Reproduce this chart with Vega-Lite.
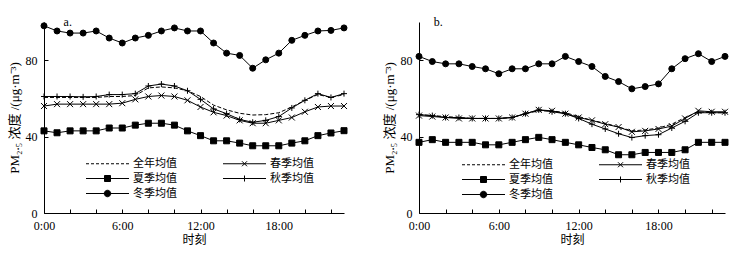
{
  "$schema": "https://vega.github.io/schema/vega-lite/v6.json",
  "padding": {"left": 8, "top": 16, "right": 5, "bottom": 5},
  "datasets": {
    "a": [
      {"h": 0, "全年均值": 60.5, "春季均值": 56, "夏季均值": 43, "秋季均值": 61, "冬季均值": 98},
      {"h": 1, "全年均值": 60.5, "春季均值": 57, "夏季均值": 42, "秋季均值": 61, "冬季均值": 95.3},
      {"h": 2, "全年均值": 60.5, "春季均值": 57, "夏季均值": 43, "秋季均值": 61, "冬季均值": 94.2},
      {"h": 3, "全年均值": 60.5, "春季均值": 57, "夏季均值": 43, "秋季均值": 60.8, "冬季均值": 94.2},
      {"h": 4, "全年均值": 60.5, "春季均值": 57, "夏季均值": 43, "秋季均值": 61, "冬季均值": 95.3},
      {"h": 5, "全年均值": 61, "春季均值": 57, "夏季均值": 44.5, "秋季均值": 62, "冬季均值": 91.6},
      {"h": 6, "全年均值": 61, "春季均值": 57.5, "夏季均值": 44.5, "秋季均值": 62, "冬季均值": 89},
      {"h": 7, "全年均值": 61.5, "春季均值": 59.5, "夏季均值": 46, "秋季均值": 62.5, "冬季均值": 91.6},
      {"h": 8, "全年均值": 65.5, "春季均值": 61, "夏季均值": 47, "秋季均值": 66.5, "冬季均值": 93},
      {"h": 9, "全年均值": 66, "春季均值": 61.5, "夏季均值": 47, "秋季均值": 67.5, "冬季均值": 95.3},
      {"h": 10, "全年均值": 65.5, "春季均值": 61, "夏季均值": 46, "秋季均值": 66.5, "冬季均值": 96.9},
      {"h": 11, "全年均值": 64, "春季均值": 59, "夏季均值": 43, "秋季均值": 64, "冬季均值": 95.3},
      {"h": 12, "全年均值": 61, "春季均值": 55.5, "夏季均值": 40.5, "秋季均值": 59.5, "冬季均值": 95.3},
      {"h": 13, "全年均值": 56.5, "春季均值": 52.7, "夏季均值": 37.8, "秋季均值": 54.5, "冬季均值": 89},
      {"h": 14, "全年均值": 54, "春季均值": 51, "夏季均值": 37.8, "秋季均值": 52, "冬季均值": 83.7},
      {"h": 15, "全年均值": 52.2, "春季均值": 48.5, "夏季均值": 36.6, "秋季均值": 49, "冬季均值": 82.5},
      {"h": 16, "全年均值": 51.3, "春季均值": 47, "夏季均值": 35.2, "秋季均值": 47.5, "冬季均值": 75.8},
      {"h": 17, "全年均值": 51.5, "春季均值": 47, "夏季均值": 35.2, "秋季均值": 48.5, "冬季均值": 80.2},
      {"h": 18, "全年均值": 52.5, "春季均值": 48.5, "夏季均值": 35.2, "秋季均值": 50.5, "冬季均值": 83.7},
      {"h": 19, "全年均值": 55.5, "春季均值": 50, "夏季均值": 36.6, "秋季均值": 55, "冬季均值": 90.4},
      {"h": 20, "全年均值": 59, "春季均值": 53, "夏季均值": 37.8, "秋季均值": 59, "冬季均值": 93},
      {"h": 21, "全年均值": 62, "春季均值": 55.5, "夏季均值": 40.5, "秋季均值": 62.5, "冬季均值": 95.3},
      {"h": 22, "全年均值": 60.5, "春季均值": 56, "夏季均值": 41.9, "秋季均值": 60.5, "冬季均值": 95.6},
      {"h": 23, "全年均值": 62, "春季均值": 56, "夏季均值": 43.1, "秋季均值": 62.5, "冬季均值": 96.9}
    ],
    "b": [
      {"h": 0, "全年均值": 51.5, "春季均值": 51, "夏季均值": 37, "秋季均值": 51.5, "冬季均值": 82},
      {"h": 1, "全年均值": 51, "春季均值": 50.5, "夏季均值": 38.4, "秋季均值": 51, "冬季均值": 79.3},
      {"h": 2, "全年均值": 50.5, "春季均值": 50, "夏季均值": 37, "秋季均值": 50, "冬季均值": 78.1},
      {"h": 3, "全年均值": 50, "春季均值": 49.5, "夏季均值": 37, "秋季均值": 50, "冬季均值": 78.1},
      {"h": 4, "全年均值": 49.5, "春季均值": 49.5, "夏季均值": 37, "秋季均值": 49.5, "冬季均值": 76.7},
      {"h": 5, "全年均值": 49.5, "春季均值": 49.5, "夏季均值": 35.7, "秋季均值": 49.5, "冬季均值": 75.5},
      {"h": 6, "全年均值": 49.5, "春季均值": 49.5, "夏季均值": 35.7, "秋季均值": 49.5, "冬季均值": 72.9},
      {"h": 7, "全年均值": 50, "春季均值": 50, "夏季均值": 37, "秋季均值": 50, "冬季均值": 75.5},
      {"h": 8, "全年均值": 52, "春季均值": 52, "夏季均值": 38.4, "秋季均值": 52, "冬季均值": 75.5},
      {"h": 9, "全年均值": 53.5, "春季均值": 54, "夏季均值": 39.6, "秋季均值": 54, "冬季均值": 78.1},
      {"h": 10, "全年均值": 53.5, "春季均值": 53.5, "夏季均值": 38.4, "秋季均值": 53, "冬季均值": 78.1},
      {"h": 11, "全年均值": 52.5, "春季均值": 52, "夏季均值": 37, "秋季均值": 52, "冬季均值": 82},
      {"h": 12, "全年均值": 50.5, "春季均值": 50, "夏季均值": 35.7, "秋季均值": 49.5, "冬季均值": 79.3},
      {"h": 13, "全年均值": 48.5, "春季均值": 48.5, "夏季均值": 34.3, "秋季均值": 46.5, "冬季均值": 76.7},
      {"h": 14, "全年均值": 47, "春季均值": 46.5, "夏季均值": 33.1, "秋季均值": 44, "冬季均值": 71.5},
      {"h": 15, "全年均值": 45, "春季均值": 45, "夏季均值": 30.5, "秋季均值": 41.5, "冬季均值": 68.8},
      {"h": 16, "全年均值": 43, "春季均值": 42.5, "夏季均值": 30.5, "秋季均值": 39.5, "冬季均值": 65},
      {"h": 17, "全年均值": 43.5, "春季均值": 43, "夏季均值": 31.7, "秋季均值": 40.5, "冬季均值": 66.2},
      {"h": 18, "全年均值": 44.5, "春季均值": 44, "夏季均值": 31.7, "秋季均值": 41, "冬季均值": 67.6},
      {"h": 19, "全年均值": 46.5, "春季均值": 45.5, "夏季均值": 31.7, "秋季均值": 44.5, "冬季均值": 75.5},
      {"h": 20, "全年均值": 50, "春季均值": 49.5, "夏季均值": 33.1, "秋季均值": 48, "冬季均值": 80.8},
      {"h": 21, "全年均值": 53, "春季均值": 53.5, "夏季均值": 37, "秋季均值": 52.5, "冬季均值": 83.4},
      {"h": 22, "全年均值": 52.5, "春季均值": 53, "夏季均值": 37, "秋季均值": 52.5, "冬季均值": 79.3},
      {"h": 23, "全年均值": 52.5, "春季均值": 53, "夏季均值": 37, "秋季均值": 52.5, "冬季均值": 82}
    ],
    "names": [{"s": "全年均值"}, {"s": "春季均值"}, {"s": "夏季均值"}, {"s": "秋季均值"}, {"s": "冬季均值"}]
  },
  "config": {
    "font": "Liberation Serif, Noto Sans CJK SC",
    "view": {"stroke": null},
    "axis": {
      "domainColor": "black", "tickColor": "black", "labelColor": "black", "titleColor": "black",
      "labelFontSize": 12, "titleFontSize": 12, "titleFontWeight": "normal", "grid": false,
      "domainWidth": 1, "tickWidth": 1
    },
    "axisX": {
      "tickCount": 23,
      "labelExpr": "datum.value % 3 === 0 ? datum.value + ':00' : ''",
      "tickSize": -4, "labelPadding": 11, "labelFlush": false, "labelOverlap": false, "titlePadding": 3
    },
    "axisY": {
      "tickCount": 5, "tickSize": -4, "labelPadding": 11, "titlePadding": 4, "titleFontSize": 13
    },
    "legend": {
      "orient": "none", "columns": 2, "direction": "horizontal", "columnPadding": 44, "rowPadding": 3,
      "symbolSize": 100, "symbolOffset": 16, "labelOffset": 20, "labelFontSize": 11,
      "labelColor": "black", "padding": 0, "symbolStrokeWidth": 1
    }
  },
  "spacing": 34,
  "resolve": {
    "scale": {"shape": "independent"},
    "legend": {"shape": "independent"}
  },
  "hconcat": [
    {
      "width": 300, "height": 191,
      "resolve": {"scale": {"shape": "independent"}, "legend": {"shape": "independent"}},
      "layer": [
        {
          "data": {"name": "a"},
          "transform": [{"fold": ["春季均值", "夏季均值", "秋季均值", "冬季均值"], "as": ["series", "value"]}],
          "mark": {"type": "line", "color": "black", "strokeWidth": 1},
          "encoding": {
            "x": {"field": "h", "type": "quantitative", "title": "时刻", "scale": {"domain": [0, 23], "nice": false, "zero": false}, "axis": {"values": [0,1,2,3,4,5,6,7,8,9,10,11,12,13,14,15,16,17,18,19,20,21,22,23]}},
            "y": {"field": "value", "type": "quantitative", "title": "PM₂.₅ 浓度 /(μg·m⁻³)", "scale": {"domain": [0, 100], "nice": false, "zero": false}, "axis": {"values": [0, 20, 40, 60, 80, 100]}},
            "detail": {"field": "series", "type": "nominal"}
          }
        },
        {
          "data": {"name": "a"},
          "transform": [{"fold": ["全年均值"], "as": ["series", "value"]}],
          "mark": {"type": "line", "color": "black", "strokeWidth": 1, "strokeDash": [4, 2]},
          "encoding": {
            "x": {"field": "h", "type": "quantitative", "title": "时刻", "scale": {"domain": [0, 23], "nice": false, "zero": false}, "axis": {"values": [0,1,2,3,4,5,6,7,8,9,10,11,12,13,14,15,16,17,18,19,20,21,22,23]}},
            "y": {"field": "value", "type": "quantitative", "title": "PM₂.₅ 浓度 /(μg·m⁻³)", "scale": {"domain": [0, 100], "nice": false, "zero": false}, "axis": {"values": [0, 20, 40, 60, 80, 100]}}
          }
        },
        {
          "data": {"name": "a"},
          "transform": [{"fold": ["春季均值", "夏季均值", "秋季均值", "冬季均值"], "as": ["series", "value"]}],
          "mark": {"type": "point", "filled": true, "color": "black", "stroke": "black", "strokeWidth": 1, "size": 36, "opacity": 1},
          "encoding": {
            "x": {"field": "h", "type": "quantitative", "title": "时刻", "scale": {"domain": [0, 23], "nice": false, "zero": false}, "axis": {"values": [0,1,2,3,4,5,6,7,8,9,10,11,12,13,14,15,16,17,18,19,20,21,22,23]}},
            "y": {"field": "value", "type": "quantitative", "title": "PM₂.₅ 浓度 /(μg·m⁻³)", "scale": {"domain": [0, 100], "nice": false, "zero": false}, "axis": {"values": [0, 20, 40, 60, 80, 100]}},
            "shape": {"field": "series", "type": "nominal",
              "scale": {"domain": ["春季均值", "夏季均值", "秋季均值", "冬季均值"],
                "range": ["M-1,-1L1,1M-1,1L1,-1", "square", "M-1,0L1,0M0,-1L0,1", "circle"]},
              "legend": null}
          }
        },
        {
          "data": {"name": "names"},
          "mark": {"type": "point", "filled": true, "color": "black", "stroke": "black", "strokeWidth": 1, "opacity": 0},
          "encoding": {
            "x": {"datum": 0, "type": "quantitative", "title": "时刻", "scale": {"domain": [0, 23], "nice": false, "zero": false}, "axis": {"values": [0,1,2,3,4,5,6,7,8,9,10,11,12,13,14,15,16,17,18,19,20,21,22,23]}},
            "y": {"datum": 0, "type": "quantitative", "title": "PM₂.₅ 浓度 /(μg·m⁻³)", "scale": {"domain": [0, 100], "nice": false, "zero": false}, "axis": {"values": [0, 20, 40, 60, 80, 100]}},
            "shape": {"field": "s", "type": "nominal",
              "scale": {"domain": ["全年均值", "春季均值", "夏季均值", "秋季均值", "冬季均值"],
                "range": [
                  "M-4.3,0H-3.7M-3.3,0H-2.7M-2.3,0H-1.7M-1.3,0H-0.7M-0.3,0H0.3M0.7,0H1.3M1.7,0H2.3M2.7,0H3.3M3.7,0H4.3",
                  "M-4.3,0H4.3M-0.5,-0.5L0.5,0.5M-0.5,0.5L0.5,-0.5",
                  "M-4.3,0H4.3M-0.6,-0.6H0.6V0.6H-0.6Z",
                  "M-4.3,0H4.3M0,-0.6V0.6",
                  "M-4.3,0H4.3M0.65,0A0.65,0.65,0,1,1,-0.65,0A0.65,0.65,0,1,1,0.65,0Z"]},
              "legend": {"title": null, "legendX": 42, "legendY": 136}}
          }
        },
        {
          "data": {"values": [{"label": "a."}]},
          "mark": {"type": "text", "align": "left", "baseline": "middle", "fontSize": 12, "color": "black"},
          "encoding": {
            "x": {"datum": 1.5, "type": "quantitative", "title": "时刻", "scale": {"domain": [0, 23], "nice": false, "zero": false}, "axis": {"values": [0,1,2,3,4,5,6,7,8,9,10,11,12,13,14,15,16,17,18,19,20,21,22,23]}},
            "y": {"datum": 100, "type": "quantitative", "title": "PM₂.₅ 浓度 /(μg·m⁻³)", "scale": {"domain": [0, 100], "nice": false, "zero": false}, "axis": {"values": [0, 20, 40, 60, 80, 100]}},
            "text": {"field": "label", "type": "nominal"}}
        }
      ]
    },
    {
      "width": 306, "height": 191,
      "resolve": {"scale": {"shape": "independent"}, "legend": {"shape": "independent"}},
      "layer": [
        {
          "data": {"name": "b"},
          "transform": [{"fold": ["春季均值", "夏季均值", "秋季均值", "冬季均值"], "as": ["series", "value"]}],
          "mark": {"type": "line", "color": "black", "strokeWidth": 1},
          "encoding": {
            "x": {"field": "h", "type": "quantitative", "title": "时刻", "scale": {"domain": [0, 23], "nice": false, "zero": false}, "axis": {"values": [0,1,2,3,4,5,6,7,8,9,10,11,12,13,14,15,16,17,18,19,20,21,22,23]}},
            "y": {"field": "value", "type": "quantitative", "title": "PM₂.₅ 浓度 /(μg·m⁻³)", "scale": {"domain": [0, 100], "nice": false, "zero": false}, "axis": {"values": [0, 20, 40, 60, 80, 100]}},
            "detail": {"field": "series", "type": "nominal"}
          }
        },
        {
          "data": {"name": "b"},
          "transform": [{"fold": ["全年均值"], "as": ["series", "value"]}],
          "mark": {"type": "line", "color": "black", "strokeWidth": 1, "strokeDash": [4, 2]},
          "encoding": {
            "x": {"field": "h", "type": "quantitative", "title": "时刻", "scale": {"domain": [0, 23], "nice": false, "zero": false}, "axis": {"values": [0,1,2,3,4,5,6,7,8,9,10,11,12,13,14,15,16,17,18,19,20,21,22,23]}},
            "y": {"field": "value", "type": "quantitative", "title": "PM₂.₅ 浓度 /(μg·m⁻³)", "scale": {"domain": [0, 100], "nice": false, "zero": false}, "axis": {"values": [0, 20, 40, 60, 80, 100]}}
          }
        },
        {
          "data": {"name": "b"},
          "transform": [{"fold": ["春季均值", "夏季均值", "秋季均值", "冬季均值"], "as": ["series", "value"]}],
          "mark": {"type": "point", "filled": true, "color": "black", "stroke": "black", "strokeWidth": 1, "size": 36, "opacity": 1},
          "encoding": {
            "x": {"field": "h", "type": "quantitative", "title": "时刻", "scale": {"domain": [0, 23], "nice": false, "zero": false}, "axis": {"values": [0,1,2,3,4,5,6,7,8,9,10,11,12,13,14,15,16,17,18,19,20,21,22,23]}},
            "y": {"field": "value", "type": "quantitative", "title": "PM₂.₅ 浓度 /(μg·m⁻³)", "scale": {"domain": [0, 100], "nice": false, "zero": false}, "axis": {"values": [0, 20, 40, 60, 80, 100]}},
            "shape": {"field": "series", "type": "nominal",
              "scale": {"domain": ["春季均值", "夏季均值", "秋季均值", "冬季均值"],
                "range": ["M-1,-1L1,1M-1,1L1,-1", "square", "M-1,0L1,0M0,-1L0,1", "circle"]},
              "legend": null}
          }
        },
        {
          "data": {"name": "names"},
          "mark": {"type": "point", "filled": true, "color": "black", "stroke": "black", "strokeWidth": 1, "opacity": 0},
          "encoding": {
            "x": {"datum": 0, "type": "quantitative", "title": "时刻", "scale": {"domain": [0, 23], "nice": false, "zero": false}, "axis": {"values": [0,1,2,3,4,5,6,7,8,9,10,11,12,13,14,15,16,17,18,19,20,21,22,23]}},
            "y": {"datum": 0, "type": "quantitative", "title": "PM₂.₅ 浓度 /(μg·m⁻³)", "scale": {"domain": [0, 100], "nice": false, "zero": false}, "axis": {"values": [0, 20, 40, 60, 80, 100]}},
            "shape": {"field": "s", "type": "nominal",
              "scale": {"domain": ["全年均值", "春季均值", "夏季均值", "秋季均值", "冬季均值"],
                "range": [
                  "M-4.3,0H-3.7M-3.3,0H-2.7M-2.3,0H-1.7M-1.3,0H-0.7M-0.3,0H0.3M0.7,0H1.3M1.7,0H2.3M2.7,0H3.3M3.7,0H4.3",
                  "M-4.3,0H4.3M-0.5,-0.5L0.5,0.5M-0.5,0.5L0.5,-0.5",
                  "M-4.3,0H4.3M-0.6,-0.6H0.6V0.6H-0.6Z",
                  "M-4.3,0H4.3M0,-0.6V0.6",
                  "M-4.3,0H4.3M0.65,0A0.65,0.65,0,1,1,-0.65,0A0.65,0.65,0,1,1,0.65,0Z"]},
              "legend": {"title": null, "legendX": 43, "legendY": 137}}
          }
        },
        {
          "data": {"values": [{"label": "b."}]},
          "mark": {"type": "text", "align": "left", "baseline": "middle", "fontSize": 12, "color": "black"},
          "encoding": {
            "x": {"datum": 1.1, "type": "quantitative", "title": "时刻", "scale": {"domain": [0, 23], "nice": false, "zero": false}, "axis": {"values": [0,1,2,3,4,5,6,7,8,9,10,11,12,13,14,15,16,17,18,19,20,21,22,23]}},
            "y": {"datum": 100, "type": "quantitative", "title": "PM₂.₅ 浓度 /(μg·m⁻³)", "scale": {"domain": [0, 100], "nice": false, "zero": false}, "axis": {"values": [0, 20, 40, 60, 80, 100]}},
            "text": {"field": "label", "type": "nominal"}}
        }
      ]
    }
  ]
}
